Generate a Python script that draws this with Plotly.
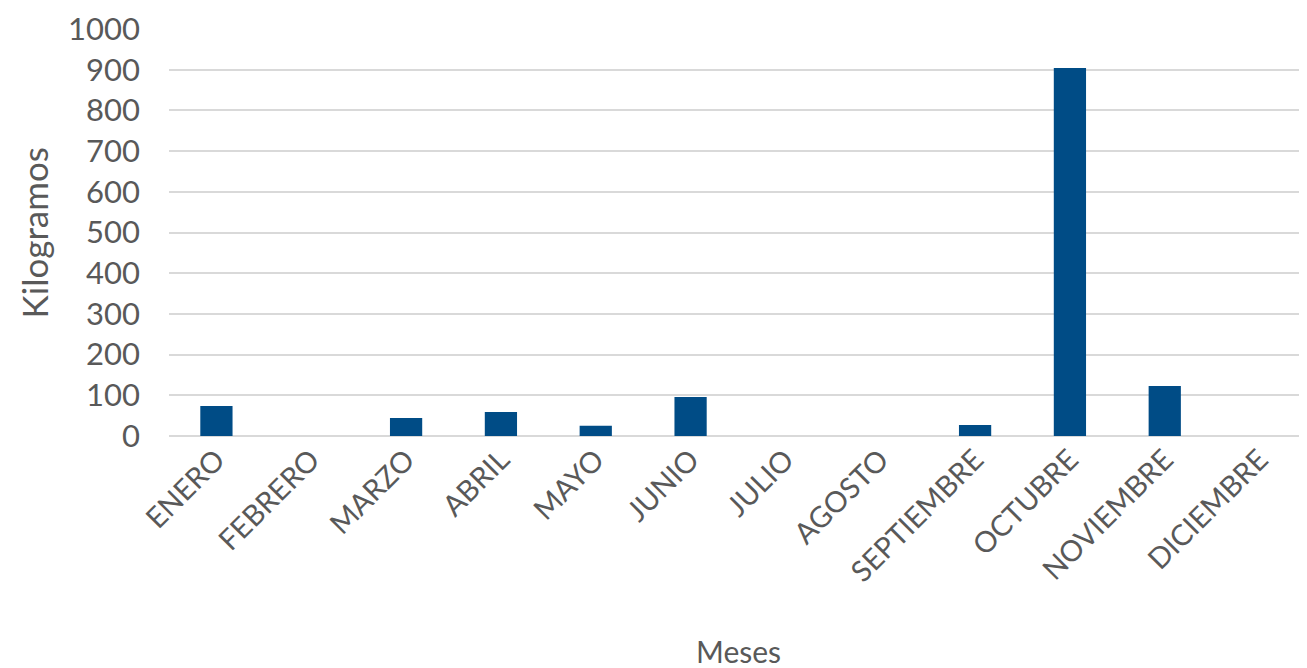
import plotly.graph_objects as go

meses = ["ENERO", "FEBRERO", "MARZO", "ABRIL", "MAYO", "JUNIO", "JULIO",
         "AGOSTO", "SEPTIEMBRE", "OCTUBRE", "NOVIEMBRE", "DICIEMBRE"]
kilogramos = [74, 0, 44, 59, 25, 96, 0, 0, 27, 904, 123, 0]
y_ticks = [0, 100, 200, 300, 400, 500, 600, 700, 800, 900, 1000]

font_family = "Lato, Open Sans, sans-serif"
grey = "#595959"

fig = go.Figure(go.Bar(x=meses, y=kilogramos, marker=dict(color="#004c86", line=dict(width=0))))

fig.update_layout(
    width=1299, height=660,
    margin=dict(l=161, r=0, t=21, b=232),
    plot_bgcolor="white", paper_bgcolor="white",
    bargap=0.66,
    showlegend=False,
    font=dict(family=font_family, color=grey, size=28),
)
fig.update_xaxes(
    automargin=False,
    tickangle=-45, tickfont=dict(size=29, color=grey, family=font_family),
    showgrid=False, showline=False, ticks="",
)
fig.update_yaxes(
    automargin=False,
    range=[0, 1000], tickvals=y_ticks, ticktext=[str(v) for v in y_ticks],
    showgrid=True, gridcolor="#d9d9d9", gridwidth=2,
    zeroline=True, zerolinecolor="#d9d9d9", zerolinewidth=2,
    tickfont=dict(size=31, color=grey, family=font_family),
    ticks="", ticklen=0, ticklabelstandoff=28,
)
fig.add_annotation(text="Kilogramos", xref="paper", yref="paper", x=-0.1187, y=0.5,
                   xanchor="center", yanchor="middle", textangle=-90, showarrow=False,
                   font=dict(size=35, color=grey, family=font_family))
fig.add_annotation(text="Meses", xref="paper", yref="paper", x=0.5, y=-0.528,
                   xanchor="center", yanchor="middle", showarrow=False,
                   font=dict(size=30, color=grey, family=font_family))

fig.write_html("out.html")
